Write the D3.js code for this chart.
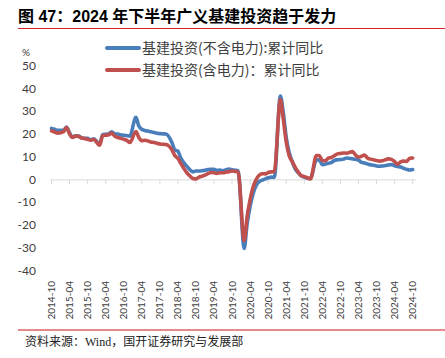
<!DOCTYPE html>
<html>
<head>
<meta charset="utf-8">
<script src="https://cdn.jsdelivr.net/npm/d3@7"></script>
<style>
    body { margin: 0; background: #fff; }
    svg { display: block; }
</style>
</head>
<body>
<svg id="chart" width="445" height="358"></svg>
<script>
// 月度累计同比（1月无单独数据）
var startMonth = new Date(2014, 9, 1), endMonth = new Date(2024, 9, 1)
var exPower = [
    22.4, 22.0, 21.5,
    21.5, 23.0, 20.5, 18.5, 19.1, 19.0, 18.3, 18.0, 18.0, 17.3, 17.8,
    15.5, 19.6, 19.8, 20.0, 20.9, 20.0, 19.9, 19.5, 19.4, 19.2, 19.0,
    27.3, 23.5, 22.0, 21.5, 21.2, 20.9, 20.6, 20.3, 20.1, 20.0, 19.9,
    16.1, 13.0, 12.4, 9.4, 7.3, 5.7, 4.2, 3.3, 3.7, 3.7, 3.8,
    4.3, 4.4, 4.4, 4.0, 4.1, 3.8, 4.2, 4.5, 4.2, 4.0, 3.8,
    -30.3, -19.7, -11.8, -6.3, -2.7, -1.0, -0.3, 0.2, 0.7, 1.0, 0.9,
    36.6, 29.7, 18.4, 11.8, 7.8, 4.6, 2.9, 1.5, 1.0, 0.5, 0.4,
    8.6, 8.5, 6.5, 6.7, 7.1, 7.4, 8.3, 8.6, 8.7, 8.9, 9.4,
    9.0, 8.8, 8.5, 7.5, 7.2, 6.8, 6.4, 6.2, 5.9, 5.8, 5.9,
    6.3, 6.5, 6.0, 5.7, 5.4, 4.9, 4.4, 4.1, 4.3
]
var inPower = [
    21.3, 20.8, 20.3,
    21.0, 22.8, 20.0, 18.4, 19.0, 18.9, 18.2, 18.0, 17.6, 17.2, 17.5,
    15.0, 19.2, 19.4, 19.6, 20.3, 19.0, 18.4, 18.0, 17.6, 17.1, 16.2,
    21.0, 18.5, 17.0, 17.2, 16.9, 16.4, 16.2, 15.9, 15.5, 15.4, 15.3,
    12.9, 10.5, 9.2, 7.0, 4.8, 2.9, 1.5, 0.4, 0.2, 1.0, 1.4,
    2.5, 3.0, 2.9, 2.6, 2.9, 2.9, 3.2, 3.4, 3.7, 3.5, 3.3,
    -26.9, -16.4, -8.8, -3.3, -0.1, 1.8, 2.5, 2.4, 3.0, 3.3, 3.4,
    35.0, 26.9, 16.4, 10.4, 7.8, 5.3, 3.2, 1.6, 1.2, 0.7, 0.2,
    10.5, 10.5, 8.3, 8.2, 9.3, 9.6, 10.4, 11.2, 11.4, 11.6, 11.5,
    12.2, 10.8, 9.8, 10.1, 10.7, 9.4, 8.9, 8.6, 8.3, 8.0, 8.2,
    9.0, 8.8, 7.8, 6.7, 7.7, 8.0, 7.9, 9.3, 9.4
]
var seriesNames = ['基建投资(不含电力):累计同比', '基建投资(含电力)：累计同比']
var seriesColors = ['#4a7ebb', '#c0504d']
var yTicks = [50, 40, 30, 20, 10, 0, -10, -20, -30, -40]

var months = d3.timeMonth.range(startMonth, d3.timeMonth.offset(endMonth, 1))
    .filter(d => d.getMonth() !== 0)
// 每半年一个刻度：2014-10, 2015-04, ...
var xTicks = d3.timeMonth.range(startMonth, d3.timeMonth.offset(endMonth, 1), 6)

var svg = d3.select('#chart')
var fmt = d3.timeFormat('%Y-%m')

var x = d3.scaleTime().domain([startMonth, endMonth]).range([51.5, 412.7])
var y = d3.scaleLinear().domain([-40, 50]).range([270.5, 65.5])

// 标题
svg.append('text')
    .attr('x', 18).attr('y', 22)
    .attr('font-family', '"Liberation Sans", "Noto Sans CJK SC", sans-serif')
    .attr('font-weight', 'bold')
    .attr('font-size', 16)
    .attr('fill', '#000')
    .text('图 47：2024 年下半年广义基建投资趋于发力')
svg.append('line')
    .attr('x1', 18).attr('x2', 445).attr('y1', 28.5).attr('y2', 28.5)
    .attr('stroke', '#d8262d').attr('stroke-width', 1)

// 图例
var legend = svg.append('g')
seriesNames.forEach((name, i) => {
    let ly = 48 + i * 22
    legend.append('line')
        .attr('x1', 107).attr('x2', 139).attr('y1', ly).attr('y2', ly)
        .attr('stroke', seriesColors[i]).attr('stroke-width', 4)
        .attr('stroke-linecap', 'round')
    legend.append('text')
        .attr('x', 142).attr('y', ly + 5)
        .attr('font-family', '"Noto Sans CJK SC", sans-serif')
        .attr('font-size', 14)
        .attr('fill', '#404040')
        .text(name)
})

svg.append('text')
    .attr('x', 22).attr('y', 56)
    .attr('font-family', 'Lato, "Liberation Sans", sans-serif')
    .attr('font-size', 10)
    .attr('fill', '#404040')
    .text('%')

// Y 轴刻度文字（无轴线）
svg.append('g')
    .selectAll('text')
    .data(yTicks)
    .join('text')
    .attr('x', 36)
    .attr('y', d => y(d) + 4.3)
    .attr('text-anchor', 'end')
    .attr('font-family', 'Lato, "Liberation Sans", sans-serif')
    .attr('font-size', 12)
    .attr('fill', '#404040')
    .text(d => d)

// X 轴：零线 + 刻度
var gx = svg.append('g').attr('transform', `translate(0,${y(0) + 0.5})`)
gx.append('line')
    .attr('x1', x(startMonth) - 1).attr('x2', x(endMonth) + 3)
    .attr('stroke', '#d9d9d9').attr('stroke-width', 1)
gx.selectAll('.tick')
    .data(xTicks)
    .join('line')
    .attr('x1', d => x(d)).attr('x2', d => x(d))
    .attr('y1', 0).attr('y2', 4)
    .attr('stroke', '#d9d9d9').attr('stroke-width', 1)

svg.append('g')
    .selectAll('text')
    .data(xTicks)
    .join('text')
    .attr('transform', d => `translate(${x(d) + 3.5},281) rotate(-90)`)
    .attr('text-anchor', 'end')
    .attr('font-family', 'Lato, "Liberation Sans", sans-serif')
    .attr('font-size', 10)
    .attr('fill', '#404040')
    .text(d => fmt(d))

// 折线
var line = d3.line()
    .x((d, i) => x(months[i]))
    .y(d => y(d))
    .curve(d3.curveMonotoneX)
var plot = svg.append('g')
;[exPower, inPower].forEach((vals, i) => {
    plot.append('path')
        .datum(vals)
        .attr('d', line)
        .attr('fill', 'none')
        .attr('stroke', seriesColors[i])
        .attr('stroke-width', 3.6)
        .attr('stroke-linejoin', 'round')
        .attr('stroke-linecap', 'round')
})

// 底部来源
svg.append('line')
    .attr('x1', 18).attr('x2', 445).attr('y1', 330).attr('y2', 330)
    .attr('stroke', '#e48a8d').attr('stroke-width', 2)
svg.append('text')
    .attr('x', 25).attr('y', 346)
    .attr('font-family', '"Liberation Serif", "Noto Sans CJK SC", serif')
    .attr('font-size', 12)
    .attr('fill', '#222')
    .text('资料来源：Wind，国开证券研究与发展部')
</script>
</body>
</html>
